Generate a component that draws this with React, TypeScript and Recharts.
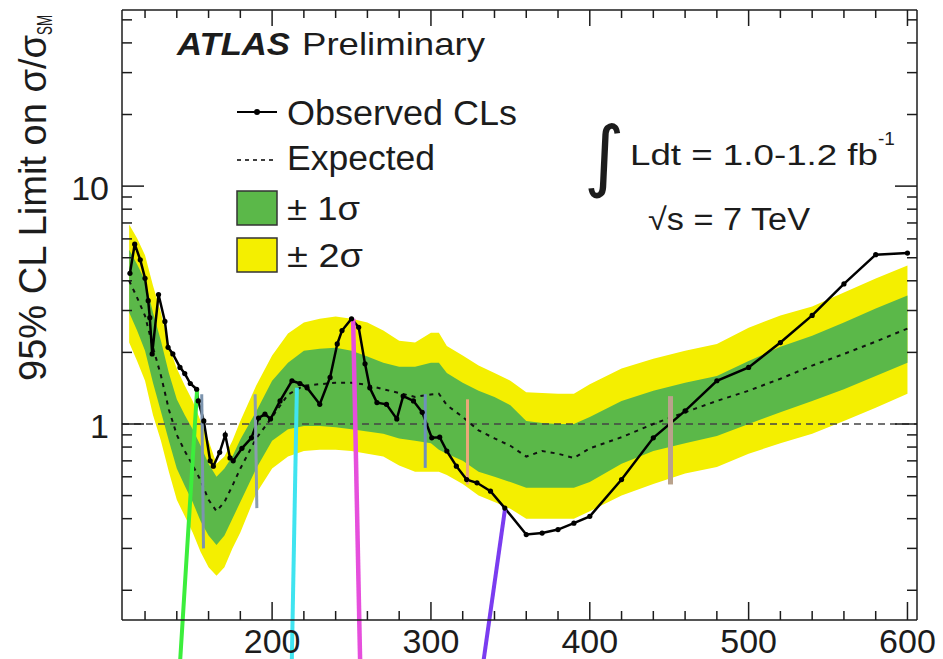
import { ComposedChart, Area, Line, XAxis, YAxis, ReferenceLine } from "recharts";

// Higgs mass points (GeV) for the expected limit and its bands
const massGrid = [
  110, 115, 120, 125, 130, 135, 140, 145, 150, 155, 160, 165, 170, 175, 180,
  190, 200, 210, 220, 230, 240, 250, 260, 270, 280, 290, 300, 305, 310, 320,
  330, 340, 350, 360, 370, 380, 390, 400, 420, 440, 460, 480, 500, 520, 540,
  560, 580, 600,
];
const expected = [
  4.0, 3.4, 2.85, 2.1, 1.6, 1.15, 0.9, 0.77, 0.67, 0.58, 0.48, 0.43, 0.47, 0.55, 0.65,
  0.87, 1.07, 1.33, 1.45, 1.47, 1.49, 1.49, 1.46, 1.4, 1.35, 1.3, 1.33, 1.34, 1.2, 1.07,
  0.94, 0.87, 0.81, 0.73, 0.77, 0.75, 0.72, 0.79, 0.88, 1.0, 1.12, 1.25, 1.38, 1.55, 1.76,
  1.97, 2.22, 2.52,
];
const oneSigmaLow = [
  2.94, 2.47, 2.03, 1.49, 1.13, 0.85, 0.65, 0.55, 0.47, 0.39, 0.34, 0.31, 0.34, 0.4, 0.47,
  0.65, 0.85, 0.95, 0.98, 0.98, 0.97, 0.95, 0.93, 0.91, 0.87, 0.85, 0.83, 0.78, 0.75, 0.7,
  0.63, 0.6, 0.57, 0.54, 0.54, 0.54, 0.54, 0.57, 0.68, 0.77, 0.83, 0.89, 1.0, 1.12, 1.25,
  1.4, 1.59, 1.81,
];
const oneSigmaHigh = [
  5.4, 4.69, 4.01, 2.94, 2.24, 1.64, 1.27, 1.09, 0.95, 0.81, 0.68, 0.6, 0.65, 0.73, 0.86,
  1.13, 1.52, 1.81, 2.03, 2.07, 2.09, 2.03, 1.92, 1.81, 1.74, 1.74, 1.81, 1.81, 1.64, 1.49,
  1.38, 1.3, 1.2, 1.03, 1.01, 1.0, 1.0, 1.07, 1.25, 1.38, 1.49, 1.59, 1.84, 2.11, 2.35,
  2.67, 3.06, 3.47,
];
const twoSigmaLow = [
  2.2, 1.84, 1.52, 1.09, 0.85, 0.63, 0.48, 0.41, 0.35, 0.29, 0.25, 0.23, 0.25, 0.3, 0.35,
  0.51, 0.65, 0.73, 0.77, 0.78, 0.78, 0.77, 0.75, 0.73, 0.67, 0.63, 0.63, 0.63, 0.61, 0.56,
  0.5, 0.47, 0.44, 0.4, 0.4, 0.4, 0.4, 0.43, 0.5, 0.56, 0.62, 0.66, 0.75, 0.83, 0.91,
  1.03, 1.17, 1.34,
];
const twoSigmaHigh = [
  6.9, 6.04, 5.12, 3.82, 2.94, 2.13, 1.71, 1.45, 1.25, 1.03, 0.85, 0.68, 0.73, 0.85, 1.03,
  1.45, 1.94, 2.4, 2.67, 2.77, 2.83, 2.77, 2.67, 2.47, 2.24, 2.2, 2.42, 2.42, 2.13, 1.94,
  1.76, 1.64, 1.52, 1.36, 1.35, 1.34, 1.34, 1.47, 1.71, 1.88, 2.03, 2.17, 2.54, 2.86, 3.12,
  3.57, 4.09, 4.64,
];

// observed CLs limit
const obsMass = [
  110.5, 113.5, 117, 120, 122, 123, 124.5, 128.5, 132.5, 134.5, 137.5, 142, 145, 148.5,
  152.5, 153.5, 157, 161, 163, 167, 170.5, 173.5, 175.5, 181, 187, 191.5, 195.5, 199, 205,
  212.5, 217.5, 222, 230, 236.5, 241, 244, 250, 254.5, 258.5, 261.5, 266, 272, 278.5, 282.5,
  289, 294.5, 300.5, 305.5, 310, 316, 322.5, 329, 337.5, 346.5, 360, 370, 380, 390, 400,
  420, 440, 460, 480, 500, 520, 540, 560, 580, 600,
];
const obsLimit = [
  4.3, 5.7, 4.9, 4.1, 3.3, 2.8, 1.97, 3.5, 2.7, 2.1, 1.97, 1.73, 1.63, 1.48,
  1.4, 1.25, 1.03, 0.7, 0.665, 0.76, 0.9, 0.72, 0.7, 0.79, 0.875, 1.06, 1.1, 1.05, 1.25,
  1.52, 1.48, 1.42, 1.21, 1.57, 2.17, 2.47, 2.77, 2.55, 1.79, 1.42, 1.23, 1.21, 1.05, 1.31,
  1.25, 1.12, 0.875, 0.88, 0.77, 0.665, 0.584, 0.566, 0.522, 0.443, 0.343, 0.348, 0.36, 0.383, 0.409,
  0.584, 0.875, 1.135, 1.52, 1.73, 2.2, 2.86, 3.88, 5.15, 5.23,
];

// coloured marker strokes drawn over the plot (mass / limit at both ends)
const markTopMass = [152.8, 215.6, 251, 346.7, 155.7, 189.3, 296.4, 323, 450.8];
const markTopLimit = [1.4, 1.42, 2.77, 0.443, 1.335, 1.335, 1.335, 1.27, 1.31];
const markBottomMass = [142.1, 212.4, 255.4, 333.1, 156.8, 190.4, 296.4, 323, 450.8];
const markBottomLimit = [0.101, 0.101, 0.101, 0.101, 0.3, 0.443, 0.654, 0.557, 0.557];
const markColors = ["#3cee3c", "#40e4f0", "#e64fdc", "#7a3cf0", "#7c94ae", "#8a9db0", "#6f90bc", "#eba878", "#b9a28c"];
const markWidths = [4, 4, 4.5, 4, 3, 3, 3, 3, 5];

const xTicks = [120, 140, 160, 180, 200, 220, 240, 260, 280, 300, 320, 340, 360, 380, 400, 420, 440, 460, 480, 500, 520, 540, 560, 580, 600];
const yTicks = [0.2, 0.3, 0.4, 0.5, 0.6, 0.7, 0.8, 0.9, 1, 2, 3, 4, 5, 6, 7, 8, 9, 10, 20, 30, 40, 50];

const bandData = massGrid.map((m, i) => ({
  m,
  exp: expected[i],
  one: [oneSigmaLow[i], oneSigmaHigh[i]],
  two: [twoSigmaLow[i], twoSigmaHigh[i]],
}));
const obsData = obsMass.map((m, i) => ({ m, obs: obsLimit[i] }));

const FONT = '"Liberation Sans", Arial, Helvetica, sans-serif';
const INK = "#1c1c1c";

const BottomTick = ({ x, y, payload }: any) => {
  const major = payload.value % 100 === 0;
  return (
    <g>
      <line x1={x} y1={y} x2={x} y2={y - (major ? 18 : 9)} stroke={INK} strokeWidth={1.5} />
      {major && (
        <text x={x} y={y + 33} textAnchor="middle" fontSize={34} fontFamily={FONT} fill={INK}>
          {payload.value}
        </text>
      )}
    </g>
  );
};

const TopTick = ({ x, y, payload }: any) => {
  const major = payload.value % 100 === 0;
  return <line x1={x} y1={y} x2={x} y2={y + (major ? 16 : 8)} stroke={INK} strokeWidth={1.5} />;
};

const LeftTick = ({ x, y, payload }: any) => {
  const major = payload.value === 1 || payload.value === 10;
  return (
    <g>
      <line x1={x} y1={y} x2={x + (major ? 22 : 10)} y2={y} stroke={INK} strokeWidth={1.5} />
      {major && (
        <text x={x - 13} y={y + 14} textAnchor="end" fontSize={34} fontFamily={FONT} fill={INK}>
          {payload.value}
        </text>
      )}
    </g>
  );
};

const RightTick = ({ x, y, payload }: any) => {
  const major = payload.value === 1 || payload.value === 10;
  return <line x1={x} y1={y} x2={x - (major ? 22 : 10)} y2={y} stroke={INK} strokeWidth={1.5} />;
};

const Annotations = () => (
  <svg width={943} height={659} style={{ position: "absolute", left: 0, top: 0, pointerEvents: "none" }}>
    <g fontFamily={FONT} fill={INK}>
      <text transform="rotate(-90)" x={-381} y={46} fontSize={38} textLength={346} lengthAdjust="spacingAndGlyphs">
        95% CL Limit on σ/σ
      </text>
      <text transform="rotate(-90)" x={-35} y={52} fontSize={22} textLength={20} lengthAdjust="spacingAndGlyphs">
        SM
      </text>

      <text x={177} y={55} fontSize={32} fontWeight="bold" fontStyle="italic" textLength={113} lengthAdjust="spacingAndGlyphs">
        ATLAS
      </text>
      <text x={302} y={55} fontSize={32} textLength={183} lengthAdjust="spacingAndGlyphs">
        Preliminary
      </text>

      <line x1={237} y1={112} x2={277} y2={112} stroke="#000" strokeWidth={2} />
      <circle cx={257} cy={112} r={3} fill="#000" />
      <text x={287} y={125} fontSize={35} textLength={230} lengthAdjust="spacingAndGlyphs">
        Observed CLs
      </text>
      <line x1={237} y1={160} x2={277} y2={160} stroke="#000" strokeWidth={1.6} strokeDasharray="4 4" />
      <text x={287} y={170} fontSize={35} textLength={148} lengthAdjust="spacingAndGlyphs">
        Expected
      </text>
      <rect x={237} y={191} width={40} height={34} fill="#5bb849" stroke="#333" strokeWidth={1.5} />
      <text x={287} y={220} fontSize={34} textLength={73} lengthAdjust="spacingAndGlyphs">
        ± 1σ
      </text>
      <rect x={237} y={238} width={40} height={34} fill="#f4ef00" stroke="#333" strokeWidth={1.5} />
      <text x={287} y={267} fontSize={34} textLength={76} lengthAdjust="spacingAndGlyphs">
        ± 2σ
      </text>

      <text x={584} y={182} fontSize={78} fontFamily='"DejaVu Sans", sans-serif'>
        ∫
      </text>
      <text x={630} y={165} fontSize={29} textLength={248} lengthAdjust="spacingAndGlyphs">
        Ldt = 1.0-1.2 fb
      </text>
      <text x={878} y={145} fontSize={19}>
        -1
      </text>
      <text x={648} y={230} fontSize={31} textLength={162} lengthAdjust="spacingAndGlyphs">
        √s = 7 TeV
      </text>
    </g>
  </svg>
);

export default function App() {
  return (
    <div style={{ position: "absolute", left: 0, top: 0, width: 943, height: 659, background: "#fff" }}>
      <ComposedChart width={943} height={659} margin={{ top: 9, right: 25, bottom: 38, left: 121 }}>
        <XAxis
          dataKey="m"
          type="number"
          domain={[105.5, 606]}
          allowDataOverflow
          ticks={xTicks}
          interval={0}
          tick={BottomTick}
          tickLine={false}
          tickSize={0}
          tickMargin={0}
          height={1}
          axisLine={{ stroke: INK, strokeWidth: 1.5 }}
        />
        <XAxis
          xAxisId="top"
          orientation="top"
          dataKey="m"
          type="number"
          domain={[105.5, 606]}
          allowDataOverflow
          ticks={xTicks}
          interval={0}
          tick={TopTick}
          tickLine={false}
          tickSize={0}
          tickMargin={0}
          height={1}
          axisLine={{ stroke: INK, strokeWidth: 1.5 }}
        />
        <YAxis
          type="number"
          scale="log"
          domain={[0.15, 55]}
          allowDataOverflow
          ticks={yTicks}
          interval={0}
          tick={LeftTick}
          tickLine={false}
          tickSize={0}
          tickMargin={0}
          width={1}
          axisLine={{ stroke: INK, strokeWidth: 1.5 }}
        />
        <YAxis
          yAxisId="right"
          orientation="right"
          type="number"
          scale="log"
          domain={[0.15, 55]}
          allowDataOverflow
          ticks={yTicks}
          interval={0}
          tick={RightTick}
          tickLine={false}
          tickSize={0}
          tickMargin={0}
          width={1}
          axisLine={{ stroke: INK, strokeWidth: 1.5 }}
        />

        <Area data={bandData} dataKey="two" type="linear" stroke="none" fill="#f4ef00" fillOpacity={1} isAnimationActive={false} />
        <Area data={bandData} dataKey="one" type="linear" stroke="none" fill="#5bb849" fillOpacity={1} isAnimationActive={false} />
        <ReferenceLine y={1} stroke="#444" strokeWidth={1.3} strokeDasharray="7 5" />
        <Line data={bandData} dataKey="exp" type="linear" stroke="#111" strokeWidth={2} strokeDasharray="4 5" dot={false} isAnimationActive={false} />
        <Line
          data={obsData}
          dataKey="obs"
          type="linear"
          stroke="#000"
          strokeWidth={2.5}
          dot={{ r: 2.6, fill: "#000", stroke: "#000", strokeWidth: 0 }}
          isAnimationActive={false}
        />
        {markTopMass.map((m, i) => (
          <ReferenceLine
            key={i}
            segment={[
              { x: m, y: markTopLimit[i] },
              { x: markBottomMass[i], y: markBottomLimit[i] },
            ]}
            stroke={markColors[i]}
            strokeWidth={markWidths[i]}
            ifOverflow="visible"
          />
        ))}
      </ComposedChart>
      <Annotations />
    </div>
  );
}
